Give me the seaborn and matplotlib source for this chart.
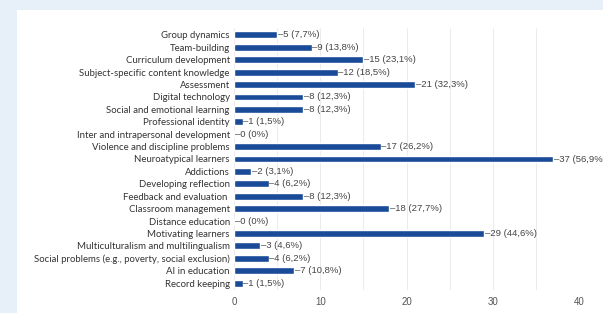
import matplotlib
matplotlib.use('Agg')
import matplotlib.pyplot as plt
import seaborn as sns
import pandas as pd
from matplotlib.patches import Rectangle

topics = ["Group dynamics", "Team-building", "Curriculum development",
          "Subject-specific content knowledge", "Assessment", "Digital technology",
          "Social and emotional learning", "Professional identity",
          "Inter and intrapersonal development", "Violence and discipline problems",
          "Neuroatypical learners", "Addictions", "Developing reflection",
          "Feedback and evaluation ", "Classroom management", "Distance education",
          "Motivating learners", "Multiculturalism and multilingualism",
          "Social problems (e.g., poverty, social exclusion)", "AI in education",
          "Record keeping"]
counts = [5, 9, 15, 12, 21, 8, 8, 1, 0, 17, 37, 2, 4, 8, 18, 0, 29, 3, 4, 7, 1]
pcts = ["7,7%", "13,8%", "23,1%", "18,5%", "32,3%", "12,3%", "12,3%", "1,5%", "0%",
        "26,2%", "56,9%", "3,1%", "6,2%", "12,3%", "27,7%", "0%", "44,6%", "4,6%",
        "6,2%", "10,8%", "1,5%"]
xticks = [0, 10, 20, 30, 40]

df = pd.DataFrame({"topic": topics, "count": counts})

sns.set_theme(style="white")
fig = plt.figure(figsize=(6.03, 3.13), dpi=100)
fig.patch.set_facecolor("#e7f0f8")
fig.patches.append(Rectangle((17 / 603, 0), 1, 1 - 10 / 313, transform=fig.transFigure,
                             facecolor="white", edgecolor="none", zorder=-5))

ax = fig.add_axes([234 / 603, 1 - 290 / 313, 345 / 603, 262 / 313])
ax.set_facecolor("none")
sns.barplot(data=df, y="topic", x="count", orient="h", color="#1a4b99",
            saturation=1, width=0.56, ax=ax)

for i, (v, p) in enumerate(zip(counts, pcts)):
    ax.text(v + 0.1, i, f"\u2013{v} ({p})", va="center", ha="left",
            fontsize=6.8, color="#444444", family="Liberation Sans")

ax.set_xlim(0, 40)
ax.set_ylim(20.56, -0.56)
ax.set_xticks(xticks)
ax.set_xticks(range(0, 41, 5), minor=True)
ax.grid(axis="x", which="both", color="#ebebeb", lw=0.7)
ax.set_axisbelow(True)
for s in ax.spines.values():
    s.set_visible(False)
ax.set_xlabel("")
ax.set_ylabel("")
ax.tick_params(axis="x", length=0, labelsize=7, labelcolor="#555555", pad=5)
ax.tick_params(axis="y", length=0, pad=3)
for lbl in ax.get_yticklabels():
    lbl.set_family("Lato")
    lbl.set_fontsize(6.9)
    lbl.set_color("#333333")
for lbl in ax.get_xticklabels():
    lbl.set_family("Liberation Sans")

plt.savefig("out.png", dpi=100, facecolor=fig.get_facecolor())
